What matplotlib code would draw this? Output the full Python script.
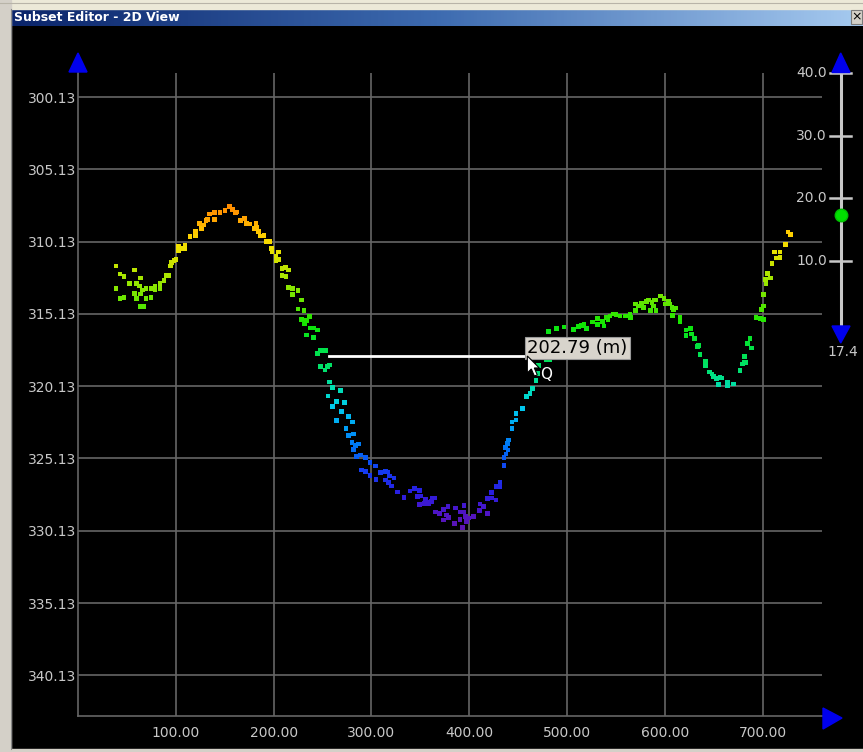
import numpy as np
import matplotlib
matplotlib.use("Agg")
import matplotlib.pyplot as plt
from matplotlib.patches import Polygon, Rectangle
from matplotlib.colors import LinearSegmentedColormap, Normalize

W, H = 863, 752

# sounding points along the profile: distance (m) and depth
dist = [38.9, 57.6, 42.9, 47.0, 64.1, 52.5, 60.0, 62.7, 38.9, 69.5,
        66.2, 75.4, 78.7, 78.7, 83.8, 87.9, 83.8, 57.6, 64.1, 42.9,
        47.0, 60.0, 69.5, 74.6, 63.4, 66.8, 90.0, 92.3, 94.8, 95.8,
        98.2, 100.2, 102.6, 102.6, 106.0, 109.4, 109.4, 114.5, 119.9, 119.9,
        124.0, 126.5, 128.8, 130.9, 132.2, 134.3, 139.8, 139.8, 145.2, 150.3,
        154.7, 158.2, 160.8, 162.3, 166.4, 170.0, 172.5, 175.2, 180.0, 182.0,
        182.7, 184.8, 186.1, 190.2, 192.2, 195.6, 198.1, 198.4, 204.8, 202.5,
        202.5, 205.2, 208.6, 212.0, 215.4, 208.6, 212.7, 215.4, 219.5, 225.0,
        219.5, 228.3, 225.0, 231.1, 228.3, 231.8, 236.5, 233.8, 237.2, 240.6,
        244.7, 233.8, 240.6, 244.7, 248.2, 252.9,
        248.2, 252.6, 254.9, 257.0, 257.0, 260.4, 268.6, 255.6, 264.5, 272.7,
        260.4, 269.6, 276.4, 280.5, 264.5, 274.0, 281.5, 276.8, 280.2, 283.5,
        287.0, 281.5, 285.0, 289.1, 293.8, 298.6, 289.7, 293.8, 304.0, 298.6,
        304.7, 309.5, 314.2, 317.0, 318.3, 323.1, 314.2, 317.7, 320.4, 326.5,
        333.3, 339.5, 344.3, 349.0, 346.9, 350.4, 355.1, 357.9, 362.0, 364.7,
        349.0, 353.8, 358.6, 361.3, 365.3, 369.4, 373.5, 378.3, 373.5, 379.0,
        385.2, 377.0, 385.8, 390.6, 394.7, 394.0, 396.0, 390.6, 397.4, 393.4,
        399.5, 404.2, 411.0, 414.4, 410.3, 418.5, 418.5, 422.6, 427.4, 422.6,
        427.4, 431.5, 431.5, 435.6, 435.6, 437.6, 439.7, 436.9, 439.0, 440.4,
        443.8, 443.8, 447.9, 447.9, 454.7, 458.8, 462.2, 464.9, 468.3, 470.4,
        471.1, 479.3, 482.6,
        506.5, 511.6, 515.1, 517.4, 520.2, 526.3, 531.0, 531.0, 536.5, 537.8,
        539.9, 541.9, 544.0, 547.4, 550.1, 554.2, 559.6, 564.4, 565.1, 569.8,
        569.8, 573.3, 576.0, 578.0, 581.5, 583.5, 586.9, 588.2, 589.7, 591.0,
        585.5, 591.0, 595.8, 599.2, 600.5, 604.0, 605.3, 607.4, 608.7, 610.7,
        608.0, 615.5, 615.5, 621.6, 626.5, 621.6, 627.1, 630.6, 633.2, 634.7,
        636.0, 641.4, 641.4, 645.5, 648.3, 649.6, 653.1, 656.4, 658.5, 655.1,
        663.9, 663.9, 670.1, 676.9, 681.0, 682.3, 679.7, 681.7, 684.4, 687.1,
        688.5, 693.3, 698.1, 700.7, 700.7, 698.7, 700.7, 703.5, 702.8, 704.8,
        708.3, 709.6, 713.7, 712.4, 717.8, 717.8, 723.2, 726.0, 728.7,
        481.0, 489.0, 497.0]

depth = [311.82, 312.09, 312.37, 312.56, 312.65, 313.01, 313.01, 313.20, 313.36, 313.39,
         313.48, 313.36, 313.25, 313.43, 313.01, 312.83, 313.36, 313.71, 313.75, 314.08,
         313.98, 314.08, 314.08, 313.98, 314.63, 314.63, 312.46, 312.46, 311.82, 311.59,
         311.45, 311.35, 310.43, 310.76, 310.62, 310.37, 310.59, 309.79, 309.74, 309.42,
         308.86, 309.21, 308.98, 308.68, 308.59, 308.22, 308.13, 308.59, 308.13, 307.99,
         307.72, 307.90, 308.13, 308.08, 308.68, 308.52, 308.86, 308.91, 309.24, 308.86,
         309.14, 309.45, 309.74, 309.69, 310.14, 310.14, 310.59, 310.80, 310.85, 311.13,
         311.45, 311.35, 312.00, 311.91, 312.09, 312.46, 312.56, 313.29, 313.36, 313.53,
         313.80, 314.17, 314.79, 314.88, 315.50, 315.78, 315.32, 315.60, 316.11, 316.11,
         316.24, 316.59, 316.75, 317.86, 317.68, 317.68,
         318.78, 319.01, 318.78, 318.66, 319.84, 320.21, 320.44, 320.81, 321.18, 321.27,
         321.55, 321.89, 322.24, 322.61, 322.52, 323.07, 323.44, 323.53, 324.04, 324.22,
         324.13, 324.50, 325.01, 324.89, 325.05, 325.39, 325.93, 326.02, 325.65, 326.29,
         326.57, 326.11, 326.02, 326.07, 326.34, 326.48, 326.62, 326.80, 327.03, 327.45,
         327.81, 327.38, 327.22, 327.36, 327.77, 327.72, 327.95, 328.14, 327.91, 327.86,
         328.33, 328.23, 328.23, 328.09, 328.83, 328.92, 328.64, 328.46, 329.38, 329.20,
         329.61, 329.04, 328.55, 328.83, 328.37, 328.83, 329.16, 329.34, 329.47, 329.89,
         329.25, 329.16, 328.28, 328.46, 328.74, 328.92, 327.91, 327.86, 328.00, 327.50,
         327.08, 327.08, 326.76, 325.60, 325.05, 324.82, 324.54, 324.36, 324.08, 323.85,
         323.07, 322.61, 322.47, 322.01, 321.69, 320.86, 320.62, 320.30, 319.75, 319.24,
         318.69, 318.27, 318.27,
         316.20, 316.02, 315.92, 315.83, 316.15, 315.69, 315.46, 315.88, 315.64, 315.97,
         315.37, 315.50, 315.28, 315.14, 315.19, 315.28, 315.28, 315.19, 315.37, 314.91,
         314.45, 314.58, 314.40, 314.67, 314.26, 314.17, 314.36, 314.58, 314.17, 314.17,
         314.91, 314.91, 313.89, 314.08, 314.45, 314.26, 314.45, 314.67, 314.86, 314.72,
         315.23, 315.37, 315.69, 316.24, 316.15, 316.61, 316.52, 316.85, 317.40, 317.30,
         317.95, 318.41, 318.73, 319.15, 319.29, 319.47, 319.61, 319.52, 319.56, 320.03,
         319.84, 320.07, 319.98, 319.06, 318.51, 318.51, 318.60, 318.09, 317.16, 316.85,
         317.49, 315.37, 315.46, 315.50, 314.58, 314.81, 313.80, 313.01, 312.74, 312.32,
         312.65, 311.63, 311.26, 310.85, 310.85, 311.22, 310.34, 309.47, 309.65,
         316.35, 316.15, 316.05]

x_ticks = [100, 200, 300, 400, 500, 600, 700]
y_ticks = [300.13, 305.13, 310.13, 315.13, 320.13, 325.13, 330.13, 335.13, 340.13]

# distance measurement
meas_x = [256.6, 459.4]
meas_depth = 318.04
meas_label = "202.79 (m)"

# slider on the right
slider_ticks = [40.0, 30.0, 20.0, 10.0]
slider_value = 17.4

title = "Subset Editor - 2D View"

grid_col = "#666666"
txt_col = "#c8c8c8"
arrow_col = "#0000ee"

# depth colour ramp (orange at the shallow end to purple at the deep end)
ramp = [(307.7, "#ff8c00"), (308.6, "#ffa500"), (309.5, "#ffcc00"),
        (310.5, "#f0e000"), (312.5, "#aae600"), (314.5, "#5ae600"),
        (315.8, "#10e600"), (317.5, "#00e246"), (319.0, "#00e16e"),
        (320.5, "#00dcbe"), (321.5, "#00cdeb"), (323.0, "#00a0f5"),
        (324.5, "#006ef5"), (326.0, "#143cf0"), (327.5, "#281ee1"),
        (329.0, "#5014c3"), (330.2, "#5f14af")]
dmin, dmax = ramp[0][0], ramp[-1][0]
depth_cmap = LinearSegmentedColormap.from_list(
    "depth", [((d - dmin) / (dmax - dmin), c) for d, c in ramp])

fig = plt.figure(figsize=(W / 100, H / 100), dpi=100, facecolor="black")

# main plot area (pixel box 78..822 x 73..716)
ax = fig.add_axes([78 / W, 1 - 716 / H, (822 - 78) / W, (716 - 73) / H])
ax.set_facecolor("black")
ax.set_xlim(0, 760.7)
ax.set_ylim(342.94, 298.47)
ax.set_xticks(x_ticks)
ax.set_xticklabels(["%.2f" % v for v in x_ticks])
ax.set_yticks(y_ticks)
ax.set_yticklabels(["%.2f" % v for v in y_ticks])
ax.tick_params(length=0, colors=txt_col, labelsize=10)
ax.tick_params(axis="y", pad=1.5)
ax.tick_params(axis="x", pad=7)
ax.grid(True, color=grid_col, lw=1.2)
ax.set_axisbelow(True)
for s in ["top", "right"]:
    ax.spines[s].set_visible(False)
for s in ["left", "bottom"]:
    ax.spines[s].set_color(grid_col)
    ax.spines[s].set_linewidth(1.2)

ax.scatter(dist, depth, c=depth, cmap=depth_cmap, norm=Normalize(dmin, dmax),
           marker="s", s=11, linewidths=0, zorder=3)

ax.plot(meas_x, [meas_depth, meas_depth], color="white", lw=2, zorder=4)
ax.text(meas_x[1], meas_depth + 0.05, meas_label, ha="left", va="bottom",
        fontsize=13, color="black", zorder=6,
        bbox=dict(boxstyle="square,pad=0.12", fc="#d8d4cc", ec="#9a9a9a", lw=0.8))

# overlay in pixel coords for the window chrome
ov = fig.add_axes([0, 0, 1, 1], zorder=5)
ov.patch.set_alpha(0)

title_cmap = LinearSegmentedColormap.from_list("tb", ["#0a246a", "#3d6bb0", "#a6caf0"])
ov.imshow(np.linspace(0, 1, 256).reshape(1, -1), extent=(11, W, 26, 9),
          aspect="auto", cmap=title_cmap, zorder=1)
ov.set_xlim(0, W)
ov.set_ylim(H, 0)
ov.axis("off")

ov.add_patch(Rectangle((0, 0), W, 9, color="#ece9d8", zorder=2))
ov.add_patch(Rectangle((0, 0), 11, H, color="#d4d0c8", zorder=2))
ov.add_patch(Rectangle((0, 749), W, 3, color="#d4d0c8", zorder=2))
ov.plot([10.5, 10.5], [9, 749], color="#8a8a8a", lw=0.8, zorder=3)
ov.plot([0, W], [3, 3], color="#b8b4a8", lw=0.8, zorder=3)
ov.text(14, 17.5, title, color="white", fontweight="bold", fontsize=9,
        va="center", ha="left", zorder=3)
ov.add_patch(Rectangle((851, 10), 11, 14, fc="#d4d0c8", ec="#7a7a7a", lw=0.8, zorder=3))
ov.text(856.5, 17, "\u00d7", color="black", fontsize=9, ha="center", va="center", zorder=4)

# axis arrows
ov.add_patch(Polygon([(78, 53), (69, 72), (87, 72)], color=arrow_col, zorder=3))
ov.add_patch(Polygon([(842, 718), (823, 708), (823, 729)], color=arrow_col, zorder=3))

# slider
def slider_y(v):
    return 323.6 - v * 6.265

sx = 840.7
ov.plot([sx, sx], [72, 327], color="#c8c8c8", lw=2.2, zorder=3)
for v in slider_ticks:
    ov.plot([830, 851], [slider_y(v), slider_y(v)], color="#c8c8c8", lw=1.8, zorder=3)
    ov.text(827, slider_y(v), "%.1f" % v, color=txt_col, fontsize=10,
            ha="right", va="center", zorder=3)
ov.add_patch(Polygon([(sx, 53), (832, 72.5), (850, 72.5)], color=arrow_col, zorder=4))
ov.add_patch(Polygon([(sx, 343), (832, 326), (850, 326)], color=arrow_col, zorder=4))
ov.plot(sx, slider_y(slider_value), "o", ms=9, color="#00e000", mec="#00c000", zorder=5)
ov.text(843, 352, "%.1f" % slider_value, color=txt_col, fontsize=10,
        ha="center", va="center", zorder=3)

# mouse cursor at the end of the measurement line
fig.canvas.draw()
tx, ty = ax.transData.transform((meas_x[1], meas_depth))
ty = H - ty
cur = [(0, 0), (0, 17), (4, 13), (7, 20), (10, 19), (7, 12), (12, 12)]
ov.add_patch(Polygon([(tx + a, ty + b) for a, b in cur], fc="white", ec="black",
                     lw=0.8, zorder=6))
ov.text(tx + 19, ty + 19, "Q", color="white", fontsize=11, ha="center", va="center", zorder=6)

fig.savefig("out.png", dpi=100, facecolor="black")
